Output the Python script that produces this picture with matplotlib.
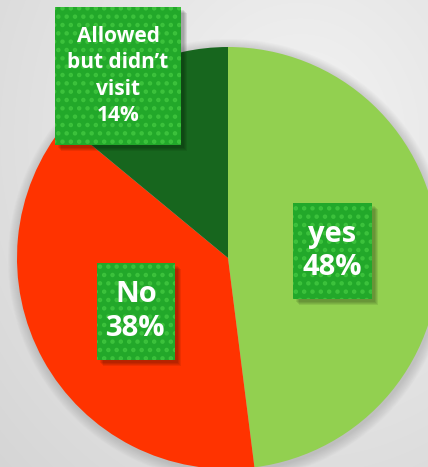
import numpy as np
import matplotlib
matplotlib.use("Agg")
import matplotlib.pyplot as plt
from matplotlib.patches import Rectangle, Circle

# Data
categories = ["yes", "No", "Allowed\nbut didn\u2019t\nvisit"]
values = [48, 38, 14]
slice_colors = ["#92D050", "#FF3300", "#17661E"]

W, H = 428, 467
fig = plt.figure(figsize=(W / 100, H / 100), dpi=100)
ax = fig.add_axes([0, 0, 1, 1])
ax.set_xlim(0, W)
ax.set_ylim(0, H)
ax.set_aspect("equal")
ax.axis("off")

# background radial gradient
yy, xx = np.mgrid[0:H, 0:W]
d = np.sqrt(((xx - 300) / 320.0) ** 2 + ((yy - 330) / 360.0) ** 2)
bg = 0.955 - 0.09 * np.clip(d, 0, 1.3)
ax.imshow(np.dstack([bg, bg, bg]), extent=[0, W, 0, H], origin="lower", zorder=0)

cx, cy, r = 228, 467 - 258, 211
# soft shadow
for i in range(10):
    ax.add_patch(Circle((cx + 1, cy - 2), r + 10 - i, color="#808080",
                        alpha=0.035, lw=0, zorder=1))

ax.pie(values, colors=slice_colors, startangle=90, counterclock=False,
       center=(cx, cy), radius=r, wedgeprops=dict(linewidth=0), frame=True)
ax.set_xlim(0, W)
ax.set_ylim(0, H)
ax.axis("off")

plt.rcParams["hatch.linewidth"] = 2.0
# label boxes (x0, y0_top, width, height) in pixel coords from top
boxes = [(293, 203, 79, 96), (97, 263, 78, 97), (55, 7, 126, 138)]
fsizes = [21, 21, 15]
lspace = [1.2, 1.2, 1.32]
for (x0, yt, w, h), lab, v, fs, ls in zip(boxes, categories, values, fsizes, lspace):
    yb = H - yt - h
    for k in range(4):
        ax.add_patch(Rectangle((x0 + 3 + k, yb - 3 - k), w, h, color="#000000",
                               alpha=0.08, lw=0, zorder=4))
    ax.add_patch(Rectangle((x0, yb), w, h, facecolor="#22A82A", edgecolor="#3CC23C",
                           hatch="..", lw=0, zorder=5))
    ax.text(x0 + w / 2, yb + h / 2, f"{lab}\n{v}%", color="white", fontsize=fs,
            fontweight="bold", family="Open Sans", ha="center", va="center",
            linespacing=ls, zorder=6)

fig.savefig("out.png", dpi=100)
